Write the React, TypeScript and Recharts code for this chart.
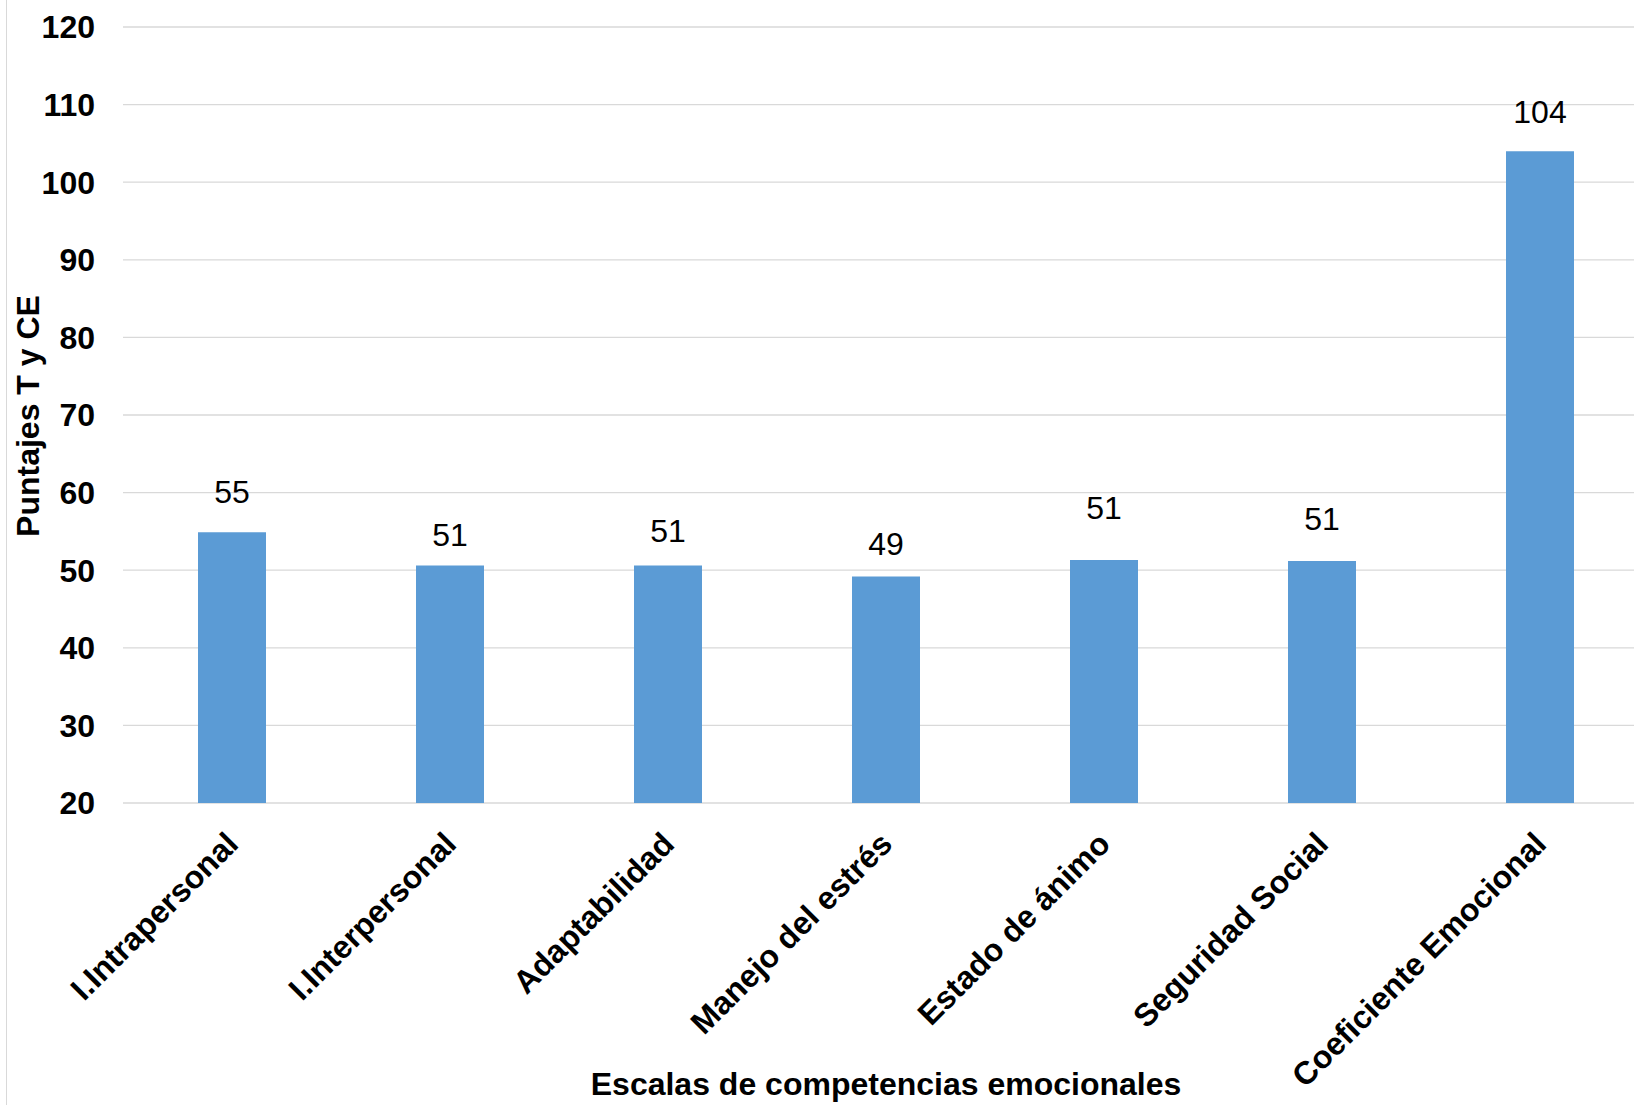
import React from "react";
import { BarChart, Bar, XAxis, YAxis, CartesianGrid, LabelList } from "recharts";

// Escalas de competencias emocionales (puntajes)
const categories = [
  "I.Intrapersonal",
  "I.Interpersonal",
  "Adaptabilidad",
  "Manejo del estrés",
  "Estado de ánimo",
  "Seguridad Social",
  "Coeficiente Emocional",
];
const scores = [54.9, 50.6, 50.6, 49.2, 51.3, 51.2, 104.0];
const yTicks = [20, 30, 40, 50, 60, 70, 80, 90, 100, 110, 120];

// labels in the original were nudged by hand, so each one sits at its own height
const labelLift = [29, 20, 24, 21, 41, 31, 28];

const FONT = '"Liberation Sans", Arial, sans-serif';
const BAR_COLOR = "#5b9bd5";
const GRID_COLOR = "#d9d9d9";

const data = categories.map((name, i) => ({ name, value: scores[i] }));

const CategoryTick = (props: any) => {
  const { x, y, payload } = props;
  return (
    <g transform={`translate(${x + 8},${y + 43})`}>
      <text
        x={0}
        y={0}
        textAnchor="end"
        transform="rotate(-45)"
        fontFamily={FONT}
        fontWeight="bold"
        fontSize={32}
        fill="#000"
      >
        {payload.value}
      </text>
    </g>
  );
};

const renderValueLabel = (props: any) => {
  const { x, y, width, value, index } = props;
  return (
    <text
      x={x + width / 2}
      y={y - labelLift[index]}
      textAnchor="middle"
      fontFamily={FONT}
      fontSize={32}
      fill="#000"
    >
      {Math.round(value)}
    </text>
  );
};

export default function App() {
  return (
    <div
      style={{
        position: "absolute",
        left: 0,
        top: 0,
        width: 1634,
        height: 1105,
        overflow: "hidden",
        background: "#fff",
      }}
    >
      <div
        style={{
          position: "absolute",
          left: 6,
          top: 0,
          width: 1,
          height: 1105,
          background: GRID_COLOR,
        }}
      />
      <BarChart
        width={1660}
        height={1105}
        data={data}
        margin={{ top: 27, right: 11, left: 0, bottom: 0 }}
      >
        <CartesianGrid vertical={false} stroke={GRID_COLOR} strokeWidth={1.3} />
        <XAxis
          dataKey="name"
          axisLine={false}
          tickLine={false}
          tickSize={0}
          tickMargin={0}
          height={302}
          interval={0}
          tick={<CategoryTick />}
        />
        <YAxis
          domain={[20, 120]}
          ticks={yTicks}
          width={123}
          axisLine={false}
          tickLine={false}
          tickSize={0}
          tickMargin={28}
          tick={{ fontFamily: FONT, fontWeight: "bold", fontSize: 32, fill: "#000" }}
        />
        <Bar dataKey="value" fill={BAR_COLOR} barSize={68} isAnimationActive={false}>
          <LabelList dataKey="value" content={renderValueLabel} />
        </Bar>
      </BarChart>
      <svg
        width={1634}
        height={1105}
        style={{ position: "absolute", left: 0, top: 0, pointerEvents: "none" }}
      >
        <text
          x={886}
          y={1095}
          textAnchor="middle"
          fontFamily={FONT}
          fontWeight="bold"
          fontSize={32}
          fill="#000"
        >
          Escalas de competencias emocionales
        </text>
        <text
          x={0}
          y={0}
          transform="translate(39,416) rotate(-90)"
          textAnchor="middle"
          fontFamily={FONT}
          fontWeight="bold"
          fontSize={32}
          fill="#000"
        >
          Puntajes T y CE
        </text>
      </svg>
    </div>
  );
}
